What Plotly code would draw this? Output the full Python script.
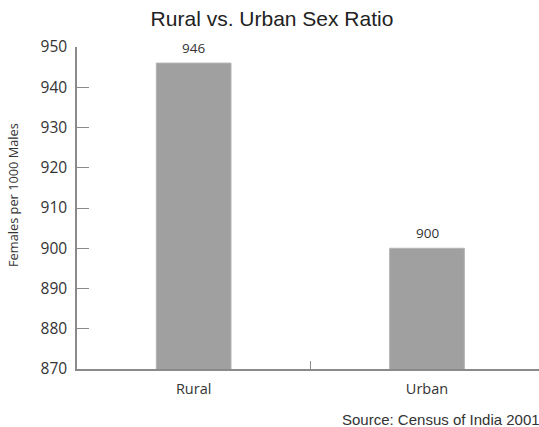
import plotly.graph_objects as go

# Sex ratio (females per 1000 males), Census of India 2001
categories = ["Rural", "Urban"]
ratios = [946, 900]
y_ticks = [870, 880, 890, 900, 910, 920, 930, 940, 950]

W, H = 539, 427
M_L, M_R, M_T, M_B = 77, 0, 47, 58

bar_color = "#a0a0a0"
axis_color = "#8a8a8a"
text_color = "#333333"

fig = go.Figure()
fig.add_trace(go.Bar(
    x=categories,
    y=ratios,
    width=0.32,
    marker=dict(color=bar_color, line=dict(color="#b2b2b2", width=1)),
    hoverinfo="x+y",
))

# value labels above each bar
for cat, val in zip(categories, ratios):
    fig.add_annotation(
        x=cat, y=val, text=str(val), showarrow=False,
        xref="x", yref="y", yanchor="bottom", yshift=4,
        font=dict(family="Open Sans", size=13.5, color=text_color),
    )

# rotated y-axis title
fig.add_annotation(
    text="Females per 1000 Males", textangle=-90, showarrow=False,
    xref="paper", yref="paper", x=(13 - M_L) / (W - M_L - M_R),
    y=(H - M_B - 195) / (H - M_T - M_B), xanchor="center", yanchor="middle",
    font=dict(family="Open Sans", size=12.8, color=text_color),
)

# source note
fig.add_annotation(
    text="Source: Census of India 2001", showarrow=False,
    xref="paper", yref="paper", x=(542 - M_L) / (W - M_L - M_R),
    y=-(420 - (H - M_B)) / (H - M_T - M_B), xanchor="right", yanchor="middle",
    font=dict(family="Liberation Sans", size=15, color=text_color),
)

fig.update_layout(
    width=W, height=H,
    margin=dict(l=M_L, r=M_R, t=M_T, b=M_B, pad=0),
    paper_bgcolor="white", plot_bgcolor="white",
    showlegend=False,
    title=dict(
        text="Rural vs. Urban Sex Ratio",
        x=272 / W, xanchor="center", y=1 - 19 / H, yanchor="middle",
        font=dict(family="Liberation Sans", size=21, color="#222222"),
    ),
    xaxis=dict(
        type="category", range=[-0.5, 1.48],
        tickson="boundaries", ticks="inside", ticklen=8, tickwidth=1,
        tickcolor=axis_color, showline=True, linecolor=axis_color, linewidth=1.5,
        showgrid=False, zeroline=False,
        tickfont=dict(family="Open Sans", size=14.5, color=text_color),
        ticklabelstandoff=6,
    ),
    yaxis=dict(
        range=[870, 950], tickvals=y_ticks,
        ticks="inside", ticklen=12, tickwidth=1, tickcolor=axis_color,
        showline=True, linecolor=axis_color, linewidth=1.5,
        showgrid=False, zeroline=False,
        tickfont=dict(family="Open Sans", size=15.5, color=text_color),
        ticklabelstandoff=5,
    ),
)

fig.write_html("out.html")
